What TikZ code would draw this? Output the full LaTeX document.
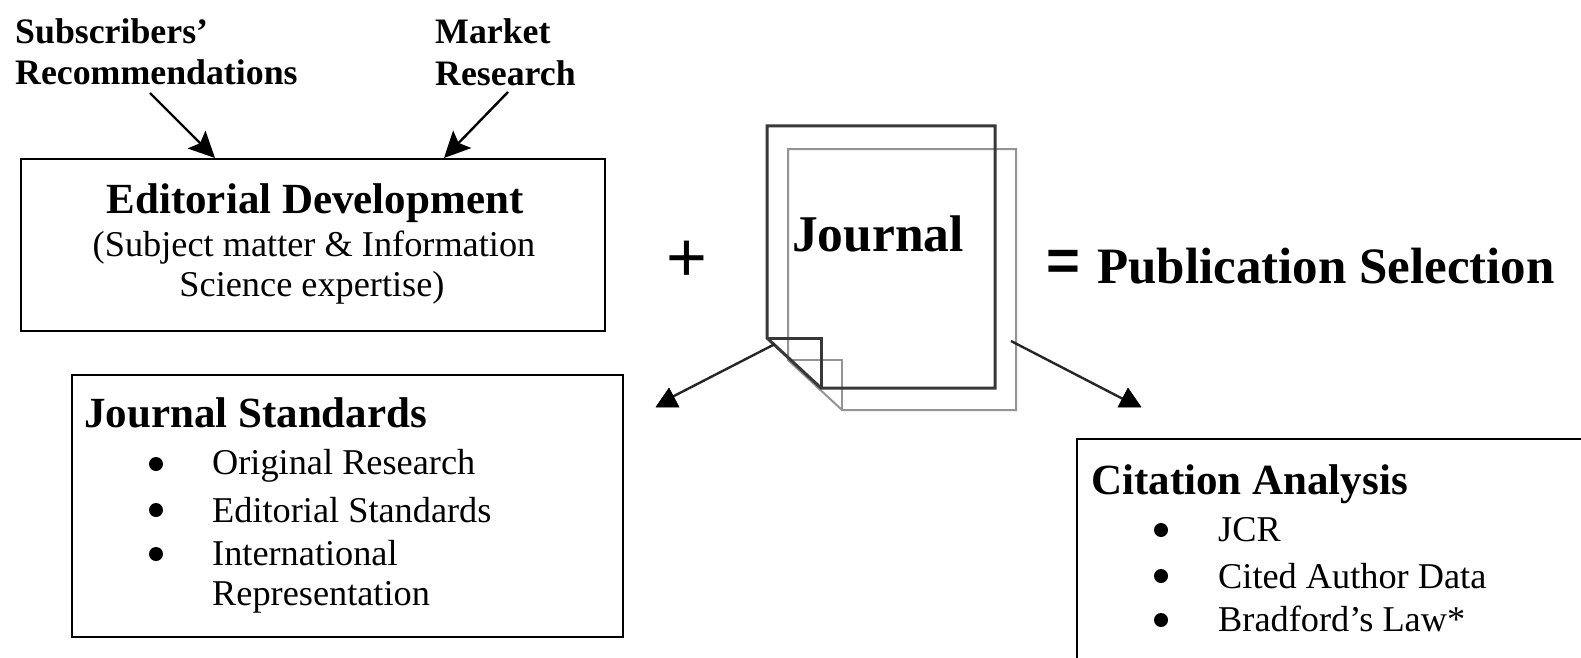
\documentclass[tikz,border=0pt]{standalone}
\usepackage{fontspec}
\setmainfont{Liberation Serif}
\newfontfamily\symfont{Liberation Sans}
\usetikzlibrary{arrows.meta}
\tikzset{
 x=1pt,y=-1pt,
 box/.style={draw=black,line width=2pt,fill=white},
 lab/.style={inner sep=0pt,anchor=west,text=black},
 ctr/.style={inner sep=0pt,anchor=center,text=black},
 hd/.style={lab,font=\bfseries\fontsize{43}{43}\selectfont},
 sm/.style={lab,font=\bfseries\fontsize{35.8}{36}\selectfont},
 tx/.style={lab,font=\fontsize{36.3}{36}\selectfont},
 arr/.style={draw=black,line width=2.4pt,-{Stealth[length=26pt,width=25pt,inset=5pt]}},
 shaft/.style={draw=black!85,line width=2.4pt},
 headfill/.style={fill=black,draw=black,line width=0.5pt,line join=miter},
 bul/.style={circle,fill=black,inner sep=0pt,minimum size=14pt},
 backpage/.style={draw=black!42,line width=2pt},
 frontpage/.style={draw=black!78,line width=3pt}
}
\begin{document}
\begin{tikzpicture}
\useasboundingbox (0,0) rectangle (1581,658);
\fill[white] (0,0) rectangle (1581,658);
\node[sm] (s1) at (15,31) {Subscribers’};
\node[sm] (s2) at (15,72) {Recommendations};
\node[sm] (m1) at (435,31) {Market};
\node[sm] (m2) at (435,73) {Research};
\node[box,minimum width=584pt,minimum height=172pt,anchor=north west] (ed) at (19.5,158) {};
\coordinate (a1) at (150,93); \coordinate (a2) at (215,158);
\coordinate (b1) at (508,92); \coordinate (b2) at (444,158);
\draw[arr] (a1) -- (a2);
\draw[arr] (b1) -- (b2);
\node[ctr,font=\bfseries\fontsize{43}{43}\selectfont] (edt) at (315,203) {Editorial Development};
\node[ctr,font=\fontsize{36.3}{36}\selectfont] (ed1) at (314,248) {(Subject matter \& Information};
\node[ctr,font=\fontsize{36.3}{36}\selectfont] (ed2) at (312,288) {Science expertise)};
\node[ctr,font=\symfont\fontsize{70}{70}\selectfont] (plus) at (687,261) {+};
% journal pages
\draw[backpage] (788,149) -- (1016,149) -- (1016,410) -- (842,410) -- (788,360) -- cycle;
\draw[backpage] (788,360) -- (842,360) -- (842,410);
\draw[frontpage] (767,126) -- (995,126) -- (995,388) -- (821,388) -- (767,338) -- cycle;
\draw[frontpage] (767,338) -- (821,338) -- (821,388);
\node[ctr,font=\bfseries\fontsize{51.5}{52}\selectfont] (j) at (878,234) {Journal};
\node[ctr,font=\symfont\bfseries\fontsize{58}{58}\selectfont] (eq) at (1063,265) {=};
\node[lab,font=\bfseries\fontsize{51}{51}\selectfont] (ps) at (1097,266) {Publication Selection};
\coordinate (c1) at (775,344); \coordinate (c2) at (672,397);
\coordinate (d1) at (1011,341); \coordinate (d2) at (1125,400);
\draw[shaft] (c1) -- (c2);
\draw[shaft] (d1) -- (d2);
\fill[headfill] (656,407) -- (679,407) -- (669,388) -- cycle;
\fill[headfill] (1118,407) -- (1141,407) -- (1128,388) -- cycle;
\node[box,minimum width=551pt,minimum height=262pt,anchor=north west] (js) at (71,374) {};
\node[hd] (jst) at (84,413) {Journal Standards};
\node[bul] (p1) at (156,464) {};
\node[tx] (t1) at (212,466) {Original Research};
\node[bul] (p2) at (156,510) {};
\node[tx] (t2) at (212,510) {Editorial Standards};
\node[bul] (p3) at (156,554) {};
\node[tx] (t3) at (212,553) {International};
\node[tx] (t4) at (212,597) {Representation};
\node[box,minimum width=530pt,minimum height=240pt,anchor=north west] (ca) at (1076,438) {};
\node[hd] (cat) at (1091,484) {Citation Analysis};
\node[bul] (q1) at (1161,530) {};
\node[tx] (u1) at (1218,530) {JCR};
\node[bul] (q2) at (1161,576) {};
\node[tx] (u2) at (1218,576) {Cited Author Data};
\node[bul] (q3) at (1161,620) {};
\node[tx] (u3) at (1218,619) {Bradford’s Law*};
\end{tikzpicture}
\end{document}
